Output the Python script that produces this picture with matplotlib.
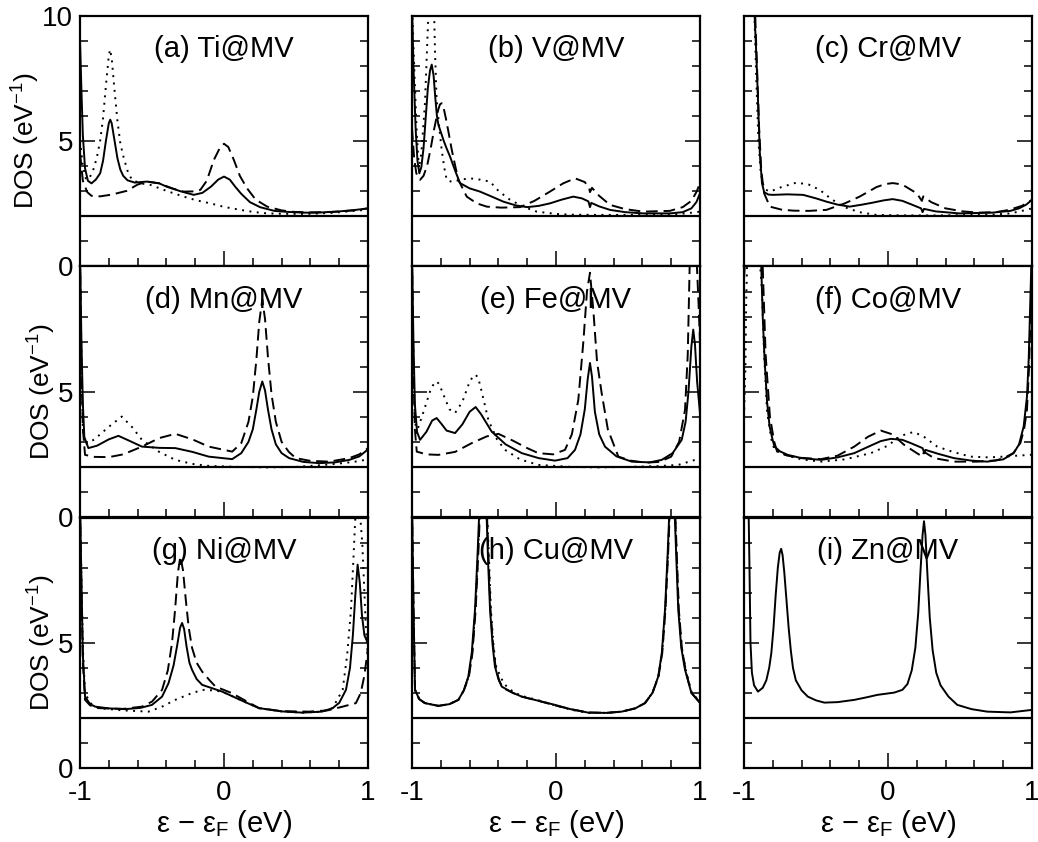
import matplotlib
matplotlib.use("Agg")
import matplotlib.pyplot as plt
from matplotlib.ticker import MultipleLocator

plt.rcParams['font.family'] = ['Liberation Sans', 'DejaVu Sans']
plt.rcParams['mathtext.fontset'] = 'custom'
plt.rcParams['mathtext.rm'] = 'Liberation Sans'
plt.rcParams['mathtext.it'] = 'Liberation Sans'

# panel titles
titles = ['(a) Ti@MV', '(b) V@MV', '(c) Cr@MV',
          '(d) Mn@MV', '(e) Fe@MV', '(f) Co@MV',
          '(g) Ni@MV', '(h) Cu@MV', '(i) Zn@MV']

baseline = 2.0

# (a) Ti
a_solid_x = [-1.0, -0.99, -0.98, -0.965, -0.945, -0.92, -0.89, -0.86, -0.84, -0.82, -0.80, -0.79, -0.78, -0.76,
             -0.74, -0.72, -0.70, -0.67, -0.62, -0.535, -0.45, -0.40, -0.30, -0.21, -0.15, -0.09, -0.04, 0.0,
             0.04, 0.08, 0.12, 0.18, 0.25, 0.35, 0.44, 0.55, 0.65, 0.80, 0.90, 1.0]
a_solid_y = [9.0, 7.0, 5.2, 3.9, 3.4, 3.3, 3.45, 3.7, 4.2, 5.0, 5.7, 5.84, 5.7, 5.0, 4.3, 3.85, 3.6, 3.42, 3.33,
             3.37, 3.3, 3.17, 2.98, 2.84, 2.92, 3.17, 3.45, 3.57, 3.45, 3.15, 2.88, 2.55, 2.35, 2.2, 2.16, 2.13,
             2.13, 2.18, 2.23, 2.3]
a_dash_x = [-1.0, -0.98, -0.95, -0.92, -0.86, -0.78, -0.675, -0.6, -0.535, -0.45, -0.36, -0.28, -0.2, -0.164,
            -0.12, -0.07, -0.03, 0.0, 0.03, 0.068, 0.11, 0.16, 0.22, 0.30, 0.40, 0.486, 0.6, 0.765, 0.9, 1.0]
a_dash_y = [4.5, 3.4, 2.95, 2.8, 2.78, 2.85, 3.0, 3.25, 3.37, 3.3, 3.1, 2.97, 2.98, 3.04, 3.4, 4.24, 4.7, 4.88,
            4.75, 4.24, 3.6, 3.1, 2.65, 2.37, 2.22, 2.16, 2.14, 2.16, 2.22, 2.3]
a_dot_x = [-1.0, -0.98, -0.96, -0.94, -0.91, -0.884, -0.86, -0.84, -0.82, -0.80, -0.791, -0.78, -0.76, -0.74,
           -0.72, -0.70, -0.67, -0.64, -0.58, -0.512, -0.40, -0.28, -0.19, -0.094, 0.0, 0.115, 0.20, 0.30, 0.45,
           0.58, 0.75, 0.9, 1.0]
a_dot_y = [5.0, 4.0, 3.5, 3.45, 3.8, 4.3, 5.0, 5.9, 7.2, 8.4, 8.64, 8.3, 7.0, 5.8, 4.9, 4.4, 3.8, 3.44, 3.3,
           3.24, 3.0, 2.77, 2.62, 2.5, 2.36, 2.24, 2.16, 2.1, 2.08, 2.08, 2.12, 2.2, 2.25]

# (b) V
b_solid_x = [-1.0, -0.99, -0.975, -0.962, -0.949, -0.935, -0.92, -0.905, -0.89, -0.875, -0.863, -0.85, -0.838,
             -0.827, -0.817, -0.80, -0.78, -0.76, -0.736, -0.70, -0.667, -0.60, -0.528, -0.45, -0.366, -0.28,
             -0.20, -0.12, -0.042, 0.04, 0.12, 0.18, 0.225, 0.236, 0.245, 0.30, 0.375, 0.48, 0.606, 0.79, 0.88,
             0.94, 0.975, 1.0]
b_solid_y = [10.5, 8.0, 5.5, 4.2, 3.7, 3.95, 4.7, 5.9, 7.1, 7.8, 8.04, 7.6, 6.7, 6.0, 5.64, 5.35, 5.0, 4.7,
             4.37, 3.8, 3.31, 3.1, 2.97, 2.78, 2.57, 2.42, 2.35, 2.4, 2.5, 2.65, 2.77, 2.7, 2.58, 2.35, 2.52,
             2.38, 2.24, 2.15, 2.1, 2.1, 2.15, 2.3, 2.55, 2.9]
b_dash_x = [-1.0, -0.985, -0.97, -0.944, -0.92, -0.895, -0.87, -0.845, -0.82, -0.806, -0.794, -0.78, -0.765,
            -0.745, -0.724, -0.70, -0.678, -0.62, -0.55, -0.481, -0.38, -0.25, -0.15, -0.042, 0.05, 0.132, 0.20,
            0.23, 0.236, 0.25, 0.30, 0.375, 0.48, 0.606, 0.79, 0.88, 0.94, 0.975, 1.0]
b_dash_y = [5.5, 4.3, 3.7, 3.44, 3.6, 4.0, 4.7, 5.5, 6.2, 6.45, 6.5, 6.3, 5.9, 5.3, 4.64, 4.0, 3.44, 2.77, 2.5,
            2.37, 2.33, 2.35, 2.6, 2.97, 3.3, 3.5, 3.35, 3.12, 2.95, 3.12, 2.8, 2.44, 2.27, 2.17, 2.2, 2.35,
            2.6, 2.95, 3.3]
b_dot_x = [-1.0, -0.985, -0.967, -0.952, -0.935, -0.91, -0.89, -0.875, -0.863, -0.85, -0.84, -0.829, -0.81,
           -0.794, -0.775, -0.759, -0.72, -0.66, -0.597, -0.53, -0.458, -0.40, -0.319, -0.22, -0.134, 0.0, 0.1,
           0.3, 0.5, 0.79, 0.9, 1.0]
b_dot_y = [10.5, 8.0, 5.3, 3.9, 4.5, 6.5, 9.5, 11.5, 12.0, 11.0, 8.5, 6.64, 5.5, 4.64, 3.9, 3.44, 3.35, 3.45,
           3.5, 3.45, 3.37, 3.0, 2.64, 2.35, 2.17, 2.08, 2.05, 2.04, 2.04, 2.05, 2.1, 2.17]

# (c) Cr
c_solid_x = [-1.0, -0.95, -0.93, -0.915, -0.905, -0.89, -0.875, -0.86, -0.83, -0.797, -0.70, -0.59, -0.50,
             -0.428, -0.35, -0.266, -0.18, -0.105, -0.03, 0.033, 0.10, 0.17, 0.23, 0.24, 0.25, 0.33, 0.495,
             0.725, 0.85, 0.91, 0.96, 1.0]
c_solid_y = [12, 12, 10.5, 8.5, 7.0, 4.5, 3.3, 2.95, 2.85, 2.84, 2.86, 2.84, 2.7, 2.57, 2.45, 2.37, 2.45, 2.53,
             2.62, 2.67, 2.6, 2.44, 2.3, 2.15, 2.28, 2.18, 2.1, 2.13, 2.2, 2.3, 2.45, 2.64]
c_dash_x = [-1.0, -0.95, -0.925, -0.91, -0.895, -0.88, -0.86, -0.82, -0.74, -0.659, -0.55, -0.428, -0.30,
            -0.197, -0.08, -0.02, 0.033, 0.08, 0.12, 0.20, 0.235, 0.245, 0.30, 0.40, 0.52, 0.63, 0.75, 0.84,
            0.93, 1.0]
c_dash_y = [12, 12, 10.5, 8.0, 5.5, 3.8, 2.9, 2.37, 2.25, 2.21, 2.2, 2.24, 2.5, 2.77, 3.15, 3.27, 3.31, 3.27,
            3.18, 2.9, 2.6, 2.78, 2.55, 2.3, 2.18, 2.13, 2.15, 2.24, 2.4, 2.64]
c_dot_x = [-1.0, -0.95, -0.93, -0.915, -0.90, -0.885, -0.87, -0.85, -0.82, -0.74, -0.635, -0.55, -0.474,
           -0.40, -0.313, -0.2, -0.082, 0.1, 0.3, 0.5, 0.725, 0.85, 0.93, 1.0]
c_dot_y = [12, 12, 10.5, 7.5, 5.0, 3.8, 3.3, 3.05, 2.97, 3.15, 3.33, 3.25, 3.04, 2.7, 2.37, 2.15, 2.04, 2.02,
           2.02, 2.03, 2.05, 2.1, 2.2, 2.3]

# (d) Mn
d_solid_x = [-1.0, -0.99, -0.98, -0.97, -0.942, -0.88, -0.80, -0.733, -0.66, -0.57, -0.45, -0.338, -0.22,
             -0.106, 0.057, 0.12, 0.17, 0.20, 0.225, 0.245, 0.266, 0.285, 0.305, 0.33, 0.36, 0.40, 0.452, 0.55,
             0.66, 0.77, 0.87, 0.94, 1.0]
d_solid_y = [10.5, 7.0, 4.5, 3.2, 2.75, 2.85, 3.1, 3.24, 3.05, 2.81, 2.76, 2.75, 2.6, 2.41, 2.31, 2.55, 3.0,
             3.5, 4.3, 5.0, 5.41, 5.05, 4.3, 3.5, 2.9, 2.55, 2.35, 2.2, 2.15, 2.18, 2.28, 2.42, 2.7]
d_dash_x = [-1.0, -0.99, -0.98, -0.965, -0.90, -0.80, -0.70, -0.57, -0.45, -0.338, -0.22, -0.106, 0.057, 0.12,
            0.17, 0.20, 0.225, 0.245, 0.266, 0.285, 0.305, 0.33, 0.36, 0.40, 0.45, 0.498, 0.60, 0.73, 0.87,
            0.94, 1.0]
d_dash_y = [10.5, 6.0, 3.5, 2.48, 2.4, 2.39, 2.5, 2.81, 3.15, 3.32, 3.1, 2.81, 2.61, 2.95, 3.8, 4.8, 6.3, 7.8,
            8.68, 7.9, 6.4, 4.9, 3.8, 3.0, 2.6, 2.35, 2.24, 2.21, 2.35, 2.5, 2.75]
d_dot_x = [-1.0, -0.99, -0.98, -0.965, -0.90, -0.80, -0.71, -0.64, -0.57, -0.45, -0.338, -0.22, -0.106, 0.1,
           0.3, 0.5, 0.7, 0.824, 0.9, 1.0]
d_dot_y = [10.5, 6.0, 3.5, 2.88, 3.1, 3.6, 4.01, 3.6, 3.08, 2.6, 2.28, 2.12, 2.04, 2.0, 1.98, 2.0, 2.08, 2.15,
           2.2, 2.3]

# (e) Fe
e_solid_x = [-1.0, -0.99, -0.98, -0.965, -0.944, -0.90, -0.86, -0.829, -0.80, -0.76, -0.701, -0.65, -0.60,
             -0.558, -0.52, -0.447, -0.35, -0.238, -0.12, -0.007, 0.08, 0.132, 0.17, 0.20, 0.22, 0.236, 0.25,
             0.27, 0.30, 0.34, 0.42, 0.526, 0.65, 0.734, 0.81, 0.873, 0.90, 0.92, 0.94, 0.953, 0.965, 0.98,
             1.0]
e_solid_y = [10.5, 7.0, 4.5, 3.4, 3.08, 3.4, 3.85, 3.95, 3.75, 3.45, 3.35, 3.7, 4.2, 4.39, 4.1, 3.41, 2.9,
             2.55, 2.35, 2.25, 2.35, 2.68, 3.3, 4.3, 5.5, 6.15, 5.6, 4.2, 3.3, 2.81, 2.42, 2.21, 2.18, 2.28, 2.55,
             3.08, 3.8, 5.0, 6.8, 7.48, 6.9, 5.4, 4.15]
e_dash_x = [-1.0, -0.99, -0.98, -0.967, -0.90, -0.817, -0.70, -0.585, -0.48, -0.40, -0.30, -0.20, -0.123,
            -0.02, 0.0625, 0.11, 0.155, 0.19, 0.215, 0.236, 0.26, 0.285, 0.317, 0.36, 0.433, 0.52, 0.618, 0.72,
            0.80, 0.855, 0.896, 0.915, 0.93, 0.975, 0.99, 1.0]
e_dash_y = [10.5, 6.0, 3.5, 2.61, 2.5, 2.48, 2.6, 2.95, 3.22, 3.32, 3.05, 2.75, 2.55, 2.5, 2.68, 3.3, 4.68, 7.0,
            9.0, 9.75, 8.2, 6.2, 4.95, 3.5, 2.41, 2.25, 2.17, 2.2, 2.41, 3.0, 4.28, 6.5, 10.5, 10.5, 8.5, 7.0]
e_dot_x = [-1.0, -0.99, -0.98, -0.97, -0.92, -0.87, -0.845, -0.829, -0.81, -0.79, -0.74, -0.701, -0.65, -0.60,
           -0.575, -0.558, -0.54, -0.52, -0.47, -0.41, -0.354, -0.25, -0.123, 0.1, 0.3, 0.5, 0.7, 0.85, 0.965,
           1.0]
e_dot_y = [10.5, 6.0, 4.0, 3.35, 4.2, 5.1, 5.35, 5.41, 5.3, 5.0, 4.3, 4.15, 4.6, 5.4, 5.62, 5.68, 5.55, 5.1,
           3.88, 3.1, 2.68, 2.3, 2.08, 2.0, 1.98, 2.0, 2.03, 2.08, 2.28, 2.35]

# (f) Co
f_solid_x = [-1.0, -0.99, -0.975, -0.90, -0.88, -0.87, -0.857, -0.84, -0.822, -0.80, -0.788, -0.75, -0.696,
             -0.60, -0.465, -0.35, -0.234, -0.12, -0.05, 0.02, 0.10, 0.158, 0.24, 0.253, 0.26, 0.35, 0.458,
             0.58, 0.689, 0.80, 0.873, 0.91, 0.942, 0.965, 0.977, 0.993, 1.0]
f_solid_y = [9.5, 10.5, 11, 11, 10.0, 8.0, 6.28, 4.6, 3.61, 3.05, 2.81, 2.62, 2.48, 2.35, 2.28, 2.38, 2.55,
             2.85, 3.03, 3.12, 3.08, 2.95, 2.75, 2.55, 2.68, 2.52, 2.35, 2.25, 2.21, 2.3, 2.55, 2.9, 3.61, 4.8,
             6.28, 9.6, 11]
f_dash_x = [-1.0, -0.99, -0.975, -0.89, -0.87, -0.85, -0.82, -0.79, -0.77, -0.70, -0.60, -0.465, -0.35,
            -0.234, -0.14, -0.05, 0.03, 0.112, 0.20, 0.239, 0.25, 0.32, 0.458, 0.62, 0.75, 0.804, 0.87, 0.919,
            0.945, 0.965, 0.978, 0.988, 0.998, 1.0]
f_dash_y = [10.5, 11, 11, 11, 10.0, 6.5, 4.0, 3.0, 2.61, 2.45, 2.36, 2.31, 2.45, 2.81, 3.2, 3.45, 3.3, 2.88,
            2.55, 2.41, 2.6, 2.35, 2.21, 2.21, 2.26, 2.35, 2.55, 2.95, 3.5, 4.28, 5.8, 7.61, 9.5, 10.5]
f_dot_x = [-1.0, -0.99, -0.985, -0.975, -0.90, -0.875, -0.86, -0.84, -0.81, -0.788, -0.70, -0.60, -0.465,
           -0.30, -0.119, 0.0, 0.066, 0.13, 0.181, 0.25, 0.342, 0.45, 0.573, 0.70, 0.804, 0.90, 0.988, 1.0]
f_dot_y = [4.0, 6.0, 8.5, 11, 11, 9.0, 6.5, 4.2, 3.1, 2.68, 2.45, 2.3, 2.21, 2.3, 2.55, 2.85, 3.15, 3.33, 3.39,
           3.2, 2.81, 2.6, 2.41, 2.38, 2.41, 2.45, 2.48, 2.5]

# (g) Ni
g_solid_x = [-1.0, -0.99, -0.98, -0.965, -0.93, -0.895, -0.80, -0.686, -0.58, -0.50, -0.43, -0.385, -0.35,
             -0.325, -0.305, -0.291, -0.277, -0.26, -0.24, -0.222, -0.19, -0.152, -0.08, -0.013, 0.12, 0.243,
             0.40, 0.545, 0.68, 0.754, 0.80, 0.847, 0.875, 0.895, 0.912, 0.928, 0.943, 0.958, 0.975, 0.99, 1.0]
g_solid_y = [10.5, 7.5, 4.5, 2.85, 2.55, 2.45, 2.38, 2.35, 2.4, 2.52, 2.85, 3.39, 4.1, 4.9, 5.6, 5.79, 5.55,
             4.85, 4.2, 3.92, 3.55, 3.32, 3.18, 3.05, 2.7, 2.39, 2.26, 2.21, 2.25, 2.39, 2.6, 3.12, 4.0, 5.3,
             6.9, 8.12, 7.4, 6.1, 5.3, 5.1, 5.3]
g_dash_x = [-1.0, -0.99, -0.98, -0.965, -0.93, -0.872, -0.70, -0.57, -0.50, -0.43, -0.39, -0.361, -0.34,
            -0.32, -0.303, -0.285, -0.265, -0.245, -0.222, -0.19, -0.152, -0.10, -0.059, 0.05, 0.243, 0.40,
            0.59, 0.72, 0.824, 0.916, 0.95, 0.975, 0.986, 1.0]
g_dash_y = [10.5, 7.0, 4.2, 2.72, 2.5, 2.39, 2.36, 2.45, 2.65, 3.12, 3.9, 4.99, 6.3, 7.8, 8.45, 7.9, 6.7, 5.6,
            4.8, 4.2, 3.85, 3.5, 3.25, 3.0, 2.39, 2.27, 2.25, 2.3, 2.45, 2.59, 3.0, 3.7, 4.18, 4.8]
g_dot_x = [-1.0, -0.99, -0.98, -0.965, -0.93, -0.872, -0.70, -0.524, -0.43, -0.338, -0.24, -0.152, -0.08,
           -0.013, 0.12, 0.243, 0.40, 0.545, 0.68, 0.754, 0.824, 0.855, 0.882, 0.90, 0.916, 0.94, 0.96,
           0.975, 0.986, 1.0]
g_dot_y = [10.5, 7.5, 4.8, 3.0, 2.6, 2.39, 2.3, 2.25, 2.45, 2.72, 2.95, 3.12, 3.1, 3.05, 2.7, 2.39, 2.26, 2.21,
           2.25, 2.39, 3.12, 4.5, 6.32, 8.5, 10.5, 10.5, 9.0, 7.0, 5.5, 4.5]

# (h) Cu
h_solid_x = [-1.0, -0.99, -0.979, -0.95, -0.91, -0.817, -0.74, -0.678, -0.64, -0.609, -0.585, -0.5625, -0.545,
             -0.535, -0.51, -0.481, -0.47, -0.458, -0.44, -0.424, -0.40, -0.377, -0.30, -0.238, -0.12, -0.007,
             0.1, 0.224, 0.35, 0.456, 0.55, 0.618, 0.67, 0.71, 0.735, 0.757, 0.775, 0.785, 0.805, 0.826, 0.838,
             0.849, 0.87, 0.896, 0.94, 1.0]
h_solid_y = [10.5, 6.5, 3.12, 2.75, 2.59, 2.48, 2.55, 2.72, 3.1, 3.65, 4.6, 6.32, 8.5, 9.92, 11, 9.9, 8.0,
             6.32, 4.9, 4.05, 3.55, 3.25, 3.0, 2.85, 2.68, 2.52, 2.35, 2.21, 2.2, 2.25, 2.38, 2.59, 3.0, 3.65,
             4.6, 6.32, 8.5, 9.92, 11, 9.9, 8.0, 6.32, 4.8, 3.92, 3.0, 2.59]
h_dash_x = [-1.0, -0.99, -0.979, -0.95, -0.91, -0.817, -0.74, -0.678, -0.64, -0.605, -0.58, -0.558, -0.54,
            -0.53, -0.505, -0.478, -0.466, -0.455, -0.437, -0.42, -0.395, -0.37, -0.30, -0.238, -0.12, -0.007,
            0.1, 0.224, 0.35, 0.456, 0.55, 0.618, 0.67, 0.712, 0.738, 0.76, 0.778, 0.788, 0.808, 0.83, 0.842,
            0.853, 0.874, 0.90, 0.94, 1.0]
h_dash_y = [10.5, 6.5, 3.12, 2.75, 2.59, 2.48, 2.55, 2.72, 3.1, 3.65, 4.6, 6.32, 8.5, 9.92, 11, 9.9, 8.0, 6.32,
            4.9, 4.05, 3.5, 3.2, 3.0, 2.85, 2.68, 2.5, 2.35, 2.22, 2.2, 2.25, 2.38, 2.59, 3.0, 3.65, 4.6, 6.32,
            8.5, 9.92, 11, 9.9, 8.0, 6.32, 4.8, 3.9, 3.0, 2.62]
h_dot_x = [-1.0, -0.99, -0.979, -0.95, -0.91, -0.817, -0.74, -0.678, -0.64, -0.606, -0.582, -0.56, -0.542,
           -0.532, -0.508, -0.476, -0.463, -0.452, -0.434, -0.418, -0.39, -0.36, -0.30, -0.238, -0.12, -0.007,
           0.1, 0.224, 0.35, 0.456, 0.55, 0.618, 0.67, 0.71, 0.737, 0.759, 0.777, 0.787, 0.807, 0.829, 0.841,
           0.852, 0.873, 0.90, 0.94, 1.0]
h_dot_y = [10.5, 6.5, 3.12, 2.75, 2.59, 2.48, 2.55, 2.72, 3.1, 3.65, 4.6, 6.32, 8.5, 9.92, 11, 9.9, 8.0, 6.32,
           4.9, 4.1, 3.7, 3.35, 3.05, 2.88, 2.7, 2.5, 2.33, 2.2, 2.2, 2.25, 2.38, 2.6, 3.0, 3.65, 4.6, 6.32, 8.5,
           9.92, 11, 9.9, 8.0, 6.32, 4.8, 3.95, 3.05, 2.62]

# (i) Zn
i_solid_x = [-1.0, -0.97, -0.962, -0.955, -0.945, -0.93, -0.903, -0.87, -0.845, -0.825, -0.81, -0.795, -0.78,
             -0.765, -0.752, -0.742, -0.732, -0.72, -0.705, -0.69, -0.675, -0.66, -0.64, -0.60, -0.557, -0.50,
             -0.442, -0.35, -0.234, -0.15, -0.073, 0.043, 0.10, 0.135, 0.165, 0.19, 0.21, 0.225, 0.24, 0.25,
             0.26, 0.275, 0.29, 0.31, 0.335, 0.365, 0.42, 0.481, 0.58, 0.689, 0.85, 1.0]
i_solid_y = [12, 11, 8.0, 5.0, 3.8, 3.3, 3.05, 3.2, 3.5, 4.0, 4.6, 5.6, 6.9, 8.0, 8.6, 8.75, 8.5, 7.8, 6.7,
             5.6, 4.7, 4.0, 3.5, 3.1, 2.85, 2.7, 2.61, 2.63, 2.72, 2.82, 2.92, 3.01, 3.12, 3.35, 3.9, 4.8, 6.2,
             7.8, 9.3, 9.85, 9.3, 7.6, 6.0, 4.7, 3.8, 3.3, 2.85, 2.52, 2.35, 2.25, 2.22, 2.32]

panels = [
    [(a_solid_x, a_solid_y), (a_dash_x, a_dash_y), (a_dot_x, a_dot_y)],
    [(b_solid_x, b_solid_y), (b_dash_x, b_dash_y), (b_dot_x, b_dot_y)],
    [(c_solid_x, c_solid_y), (c_dash_x, c_dash_y), (c_dot_x, c_dot_y)],
    [(d_solid_x, d_solid_y), (d_dash_x, d_dash_y), (d_dot_x, d_dot_y)],
    [(e_solid_x, e_solid_y), (e_dash_x, e_dash_y), (e_dot_x, e_dot_y)],
    [(f_solid_x, f_solid_y), (f_dash_x, f_dash_y), (f_dot_x, f_dot_y)],
    [(g_solid_x, g_solid_y), (g_dash_x, g_dash_y), (g_dot_x, g_dot_y)],
    [(h_solid_x, h_solid_y), (h_dash_x, h_dash_y), (h_dot_x, h_dot_y)],
    [(i_solid_x, i_solid_y)],
]

styles = [dict(linestyle='-'),
          dict(linestyle=(0, (6, 3))),
          dict(linestyle=(0, (1, 2.8)))]

fig = plt.figure(figsize=(10.38, 8.42), dpi=100)

lefts = [80 / 1038, 412 / 1038, 744 / 1038]
bottoms = [1 - 266 / 842, 1 - 517 / 842, 1 - 768 / 842]
width = 288 / 1038
height = 250.5 / 842

for k, curves in enumerate(panels):
    row, col = divmod(k, 3)
    ax = fig.add_axes([lefts[col], bottoms[row], width, height])

    ax.axhline(baseline, color='black', lw=1.6, zorder=1)
    for (xs, ys), st in zip(curves, styles):
        ax.plot(xs, ys, color='black', lw=1.4, solid_joinstyle='round', **st)

    ax.set_xlim(-1, 1)
    ax.set_ylim(0, 10)

    ax.xaxis.set_major_locator(MultipleLocator(1))
    ax.xaxis.set_minor_locator(MultipleLocator(0.2))
    ax.yaxis.set_major_locator(MultipleLocator(5))
    ax.yaxis.set_minor_locator(MultipleLocator(1))
    ax.tick_params(which='both', direction='in', left=True, right=True, top=False, bottom=True,
                   width=1.1, labelsize=20)
    ax.tick_params(which='major', length=11)
    ax.tick_params(which='minor', length=6)
    ax.tick_params(axis='x', which='major', pad=9)
    ax.tick_params(axis='y', which='major', pad=5)
    for sp in ax.spines.values():
        sp.set_linewidth(1.6)

    if row == 2:
        ax.set_xticks([-1, 0, 1])
        ax.set_xticklabels(['-1', '0', '1'])
        ax.set_xlabel(r'ε − $\mathrm{ε}_\mathrm{F}$ (eV)', fontsize=21, labelpad=1)
    else:
        ax.tick_params(labelbottom=False)

    if col == 0:
        ax.set_yticks([0, 5, 10])
        if row == 0:
            ax.set_yticklabels(['0', '5', '10'])
        else:
            ax.set_yticklabels(['0', '5', ''])
        ax.set_ylabel(r'DOS (eV$^\mathrm{-1}$)', fontsize=19, labelpad=0)
    else:
        ax.tick_params(labelleft=False)

    ax.text(0.5, 0.865, titles[k], transform=ax.transAxes, ha='center', va='center', fontsize=21)

fig.savefig('out.png', dpi=100)
